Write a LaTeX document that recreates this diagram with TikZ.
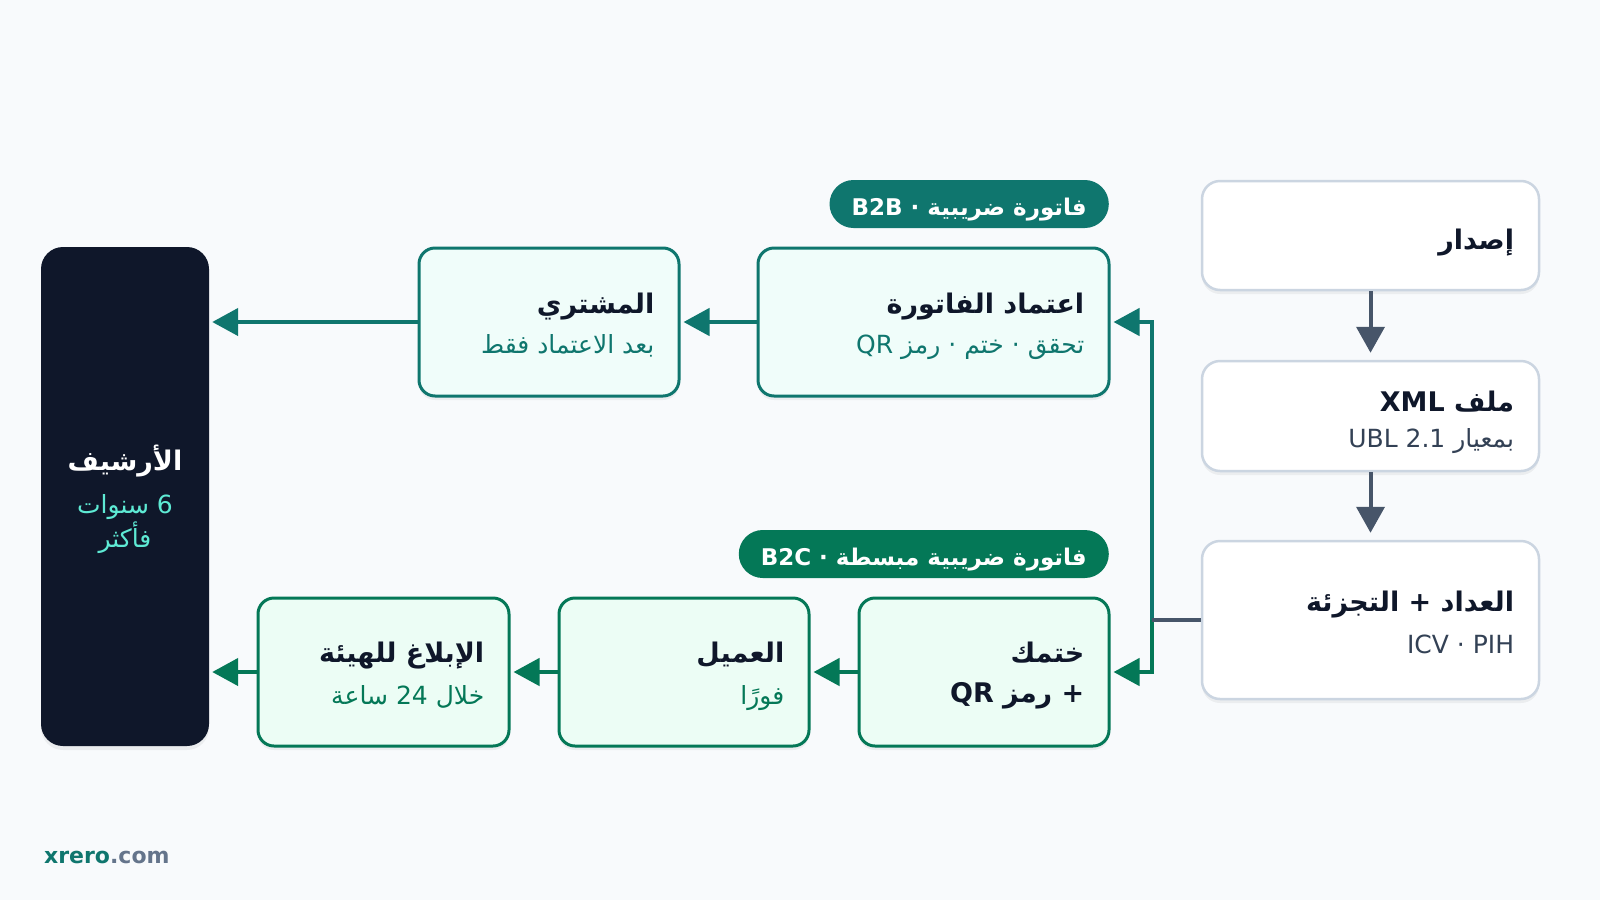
\documentclass[tikz,border=0pt]{standalone}
\usepackage{fontspec}
\usetikzlibrary{arrows.meta,shadows}
\TeXXeTstate=1
\newfontfamily\ar[Script=Arabic]{DejaVu Sans}
\newfontfamily\lat{DejaVu Sans}
\definecolor{bgc}{HTML}{F8FAFC}
\definecolor{slatethree}{HTML}{CBD5E1}
\definecolor{slatesix}{HTML}{475569}
\definecolor{slateseven}{HTML}{334155}
\definecolor{slatefive}{HTML}{64748B}
\definecolor{ink}{HTML}{0F172A}
\definecolor{tealseven}{HTML}{0F766E}
\definecolor{tealfifty}{HTML}{F0FDFA}
\definecolor{emseven}{HTML}{047857}
\definecolor{emfifty}{HTML}{ECFDF5}
\definecolor{tealthree}{HTML}{5EEAD4}
\begin{document}
\begin{tikzpicture}[x=1pt,y=-1pt,
  shad/.style={drop shadow={shadow xshift=0pt,shadow yshift=-4pt,opacity=0.05,fill=black}},
  wbox/.style={draw=slatethree,line width=2.5pt,fill=white,rounded corners=18pt,shad,inner sep=0pt},
  tbox/.style={draw=tealseven,line width=3pt,fill=tealfifty,rounded corners=16pt,shad,inner sep=0pt},
  gbox/.style={draw=emseven,line width=3pt,fill=emfifty,rounded corners=16pt,shad,inner sep=0pt},
  abox/.style={fill=ink,rounded corners=22pt,shad,inner sep=0pt},
  pill/.style={rounded corners=24pt,minimum height=48pt,inner xsep=22pt,inner ysep=0pt,text=white,
    text height=24pt,text depth=2pt,font=\ar\bfseries\fontsize{23}{27}\selectfont},
  ttl/.style={inner sep=0pt,text=ink,font=\ar\bfseries\fontsize{27}{31}\selectfont},
  sub/.style={inner sep=0pt,font=\ar\fontsize{25}{29}\selectfont},
  tarr/.style={draw=tealseven,line width=4.5pt,-{Triangle[length=26pt,width=27pt]},shorten >=3pt},
  garr/.style={draw=emseven,line width=4.5pt,-{Triangle[length=26pt,width=27pt]},shorten >=3pt},
  sarr/.style={draw=slatesix,line width=4pt,-{Triangle[length=26pt,width=28pt]},shorten >=7pt},
  sline/.style={draw=slatesix,line width=4.5pt}]
\useasboundingbox[fill=bgc] (0,0) rectangle (1600,900);

% right column
\node[wbox,minimum width=337pt,minimum height=109pt] (issue) at (1370.5,235.5) {};
\node[wbox,minimum width=337pt,minimum height=110pt] (xml) at (1370.5,416) {};
\node[wbox,minimum width=337pt,minimum height=158pt] (counter) at (1370.5,620) {};
\node[ttl,anchor=base east] (issue-t) at ([xshift=-26pt,yshift=-14pt]issue.east) {\beginR إصدار\endR};
\node[ttl,anchor=base east] (xml-t) at ([xshift=-26pt,yshift=5pt]xml.east) {\beginR ملف \beginL XML\endL\endR};
\node[sub,text=slateseven,anchor=base east] (xml-s) at ([xshift=-26pt,yshift=-31pt]xml.east) {\beginR بمعيار \beginL UBL 2.1\endL\endR};
\node[ttl,anchor=base east] (counter-t) at ([xshift=-26pt,yshift=9pt]counter.east) {\beginR العداد + التجزئة\endR};
\node[sub,text=slateseven,anchor=base east] (counter-s) at ([xshift=-26pt,yshift=-33pt]counter.east) {\beginL ICV · PIH\endL};

% B2B row
\node[pill,fill=tealseven,anchor=east,minimum width=275pt] (pb2b) at (1109,204) {\beginR فاتورة ضريبية · \beginL B2B\endL\endR};
\node[tbox,minimum width=351pt,minimum height=148pt] (approve) at (933.5,322) {};
\node[tbox,minimum width=260pt,minimum height=148pt] (buyer) at (549,322) {};
\node[ttl,anchor=base east] (approve-t) at ([xshift=-26pt,yshift=9pt]approve.east) {\beginR اعتماد الفاتورة\endR};
\node[sub,text=tealseven,anchor=base east] (approve-s) at ([xshift=-26pt,yshift=-31pt]approve.east) {\beginR تحقق · ختم · رمز \beginL QR\endL\endR};
\node[ttl,anchor=base east] (buyer-t) at ([xshift=-26pt,yshift=9pt]buyer.east) {\beginR المشتري\endR};
\node[sub,text=tealseven,anchor=base east] (buyer-s) at ([xshift=-26pt,yshift=-31pt]buyer.east) {\beginR بعد الاعتماد فقط\endR};

% B2C row
\node[pill,fill=emseven,anchor=east,minimum width=369pt] (pb2c) at (1109,554) {\beginR فاتورة ضريبية مبسطة · \beginL B2C\endL\endR};
\node[gbox,minimum width=250pt,minimum height=148pt] (stamp) at (984,672) {};
\node[gbox,minimum width=250pt,minimum height=148pt] (customer) at (684,672) {};
\node[gbox,minimum width=251pt,minimum height=148pt] (report) at (383.5,672) {};
\node[ttl,anchor=base east] (stamp-t) at ([xshift=-26pt,yshift=10pt]stamp.east) {\beginR ختمك\endR};
\node[ttl,anchor=base east] (stamp-s) at ([xshift=-26pt,yshift=-30pt]stamp.east) {\beginR + رمز \beginL QR\endL\endR};
\node[ttl,anchor=base east] (customer-t) at ([xshift=-26pt,yshift=10pt]customer.east) {\beginR العميل\endR};
\node[sub,text=emseven,anchor=base east] (customer-s) at ([xshift=-26pt,yshift=-32pt]customer.east) {\beginR فورًا\endR};
\node[ttl,anchor=base east] (report-t) at ([xshift=-26pt,yshift=10pt]report.east) {\beginR الإبلاغ للهيئة\endR};
\node[sub,text=emseven,anchor=base east] (report-s) at ([xshift=-26pt,yshift=-32pt]report.east) {\beginR خلال 24 ساعة\endR};

% archive
\node[abox,minimum width=168pt,minimum height=499pt] (archive) at (125,496.5) {};
\node[ttl,text=white,anchor=base] (archive-t) at ([yshift=26.5pt]archive.center) {\beginR الأرشيف\endR};
\node[sub,text=tealthree,anchor=base] (archive-s1) at ([yshift=-16.5pt]archive.center) {\beginR 6 سنوات\endR};
\node[sub,text=tealthree,anchor=base] (archive-s2) at ([yshift=-50.5pt]archive.center) {\beginR فأكثر\endR};

% connectors
\draw[sarr] (issue.south) -- (xml.north);
\draw[sarr] (xml.south) -- (counter.north);
\coordinate (j) at (1152,620);
\draw[tarr] (j) |- (approve.east);
\draw[garr] (j) |- (stamp.east);
\draw[sline] (counter.west) -- (j);
\draw[tarr] (approve.west) -- (buyer.east);
\draw[tarr] (buyer.west) -- (buyer.west -| archive.east);
\draw[garr] (stamp.west) -- (customer.east);
\draw[garr] (customer.west) -- (report.east);
\draw[garr] (report.west) -- (report.west -| archive.east);

% brand
\node[inner sep=0pt,anchor=base west,font=\lat\bfseries\fontsize{22}{26}\selectfont] (brand) at (44,863) {\textcolor{tealseven}{xrero}\textcolor{slatefive}{.com}};
\end{tikzpicture}
\end{document}
